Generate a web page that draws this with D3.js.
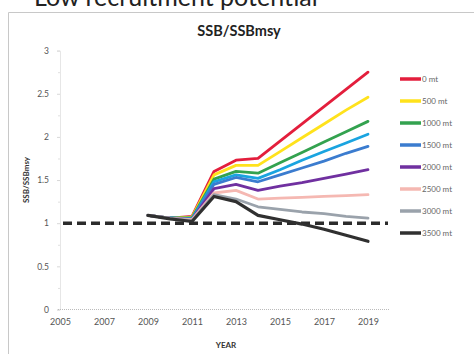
<!DOCTYPE html>
<html><head><meta charset="utf-8">
<script src="https://cdn.jsdelivr.net/npm/d3@7"></script>
<style>body{margin:0;background:#fff;} svg{display:block;}</style>
</head><body>
<svg id="c" width="474" height="354"></svg>
<script>
const years = [2009,2010,2011,2012,2013,2014,2015,2016,2017,2018,2019];
const seriesColors = ["#e31e3c","#ffe21c","#33a24f","#1aa4e0","#3b7ccf","#7030a0","#f5b8b2","#9aa2ab","#303030"];
const s0    = [1.09,1.06,1.08,1.60,1.73,1.75,1.95,2.15,2.35,2.55,2.75];
const s500  = [1.09,1.06,1.07,1.56,1.67,1.67,1.83,1.99,2.15,2.31,2.46];
const s1000 = [1.09,1.06,1.06,1.51,1.60,1.58,1.70,1.82,1.94,2.06,2.18];
const s1500 = [1.09,1.06,1.05,1.48,1.56,1.52,1.62,1.73,1.83,1.93,2.03];
const s2000 = [1.09,1.06,1.05,1.45,1.53,1.48,1.56,1.64,1.72,1.81,1.89];
const s2500a= [1.09,1.06,1.04,1.40,1.45,1.38,1.43,1.47,1.52,1.57,1.62];
const s2500 = [1.09,1.06,1.04,1.35,1.38,1.28,1.29,1.30,1.31,1.32,1.33];
const s3000 = [1.09,1.06,1.03,1.33,1.28,1.19,1.16,1.13,1.11,1.08,1.06];
const s3500 = [1.09,1.05,1.02,1.31,1.25,1.09,1.04,0.99,0.93,0.86,0.79];
const allSeries = [s0,s500,s1000,s1500,s2000,s2500a,s2500,s3000,s3500];
const legendNames = ["0 mt","500 mt","1000 mt","1500 mt","2000 mt","2500 mt","3000 mt","3500 mt"];
const legendIdx = [0,1,2,4,5,6,7,8];
const xTicks = [2005,2007,2009,2011,2013,2015,2017,2019];
const yTicks = [0,0.5,1,1.5,2,2.5,3];
const refValue = 1;

const svg = d3.select("#c");
const x = d3.scaleLinear().domain([2005,2020]).range([60,390]);
const y = d3.scaleLinear().domain([0,3]).range([309.5,50.6]);

// outer frame
svg.append("path").attr("d","M8.5,354 V12.5 H474").attr("fill","none").attr("stroke","#c8c8c8").attr("stroke-width",1);

// cut-off heading (shown partially, as in the reference)
svg.append("text").attr("x",34).attr("y",6).attr("font-family","Lato, 'Open Sans', sans-serif")
  .attr("font-size",25).attr("fill","#222").text("Low recruitment potential");

// title
svg.append("text").attr("x",239).attr("y",36).attr("text-anchor","middle")
  .attr("font-family","Lato, 'Open Sans', sans-serif").attr("font-weight","bold").attr("font-size",14.5)
  .attr("fill","#222").text("SSB/SSBmsy");

// y axis
const yAx = svg.append("g").attr("transform","translate(60,0)")
  .call(d3.axisLeft(y).tickValues(yTicks).tickSize(3).tickFormat(d3.format("")));
yAx.select(".domain").attr("stroke","#e6e6e6");
yAx.selectAll(".tick line").attr("stroke","#d8d8d8");
yAx.selectAll(".tick text").attr("fill","#555").attr("font-size",8.5).attr("font-family","Lato, sans-serif").attr("x",-11);
svg.append("g").attr("transform","translate(60,0)")
  .call(d3.axisLeft(y).tickValues(d3.range(0.25,3,0.5)).tickSize(2).tickFormat(""))
  .call(g=>g.select(".domain").remove()).selectAll("line").attr("stroke","#e0e0e0");

// x axis
const xAx = svg.append("g").attr("transform","translate(0,309.5)")
  .call(d3.axisBottom(x).tickValues(xTicks).tickSize(0).tickFormat(d3.format("d")).tickPadding(9));
xAx.select(".domain").attr("stroke","#bbb").attr("stroke-dasharray","1,1").attr("d","M58,0H390");
xAx.selectAll(".tick text").attr("fill","#555").attr("font-size",9).attr("font-family","Lato, sans-serif");

// axis titles
svg.append("text").attr("x",226).attr("y",348).attr("text-anchor","middle")
  .attr("font-family","Lato, sans-serif").attr("font-weight","bold").attr("font-size",8).attr("fill","#333").text("YEAR");
svg.append("text").attr("transform","translate(29,180) rotate(-90)").attr("text-anchor","middle")
  .attr("font-family","Lato, sans-serif").attr("font-weight","bold").attr("font-size",8).attr("fill","#333").text("SSB/SSBmsy");

// reference dashed line
svg.append("line").attr("x1",x(2005)+3).attr("x2",x(2020)-2).attr("y1",y(refValue)).attr("y2",y(refValue))
  .attr("stroke","#2b2b2b").attr("stroke-width",3.5).attr("stroke-dasharray","9,5");

// lines
const line = d3.line().x((d,i)=>x(years[i])).y(d=>y(d));
allSeries.forEach((s,i)=>{
  svg.append("path").datum(s).attr("d",line).attr("fill","none")
    .attr("stroke",seriesColors[i]).attr("stroke-width",i===8?3.2:2.8)
    .attr("stroke-linejoin","round").attr("stroke-linecap","round");
});

// legend
legendNames.forEach((n,i)=>{
  const ly = 79 + i*22;
  svg.append("line").attr("x1",400).attr("x2",421).attr("y1",ly).attr("y2",ly)
    .attr("stroke",seriesColors[legendIdx[i]]).attr("stroke-width",3.5);
  svg.append("text").attr("x",422).attr("y",ly+3).attr("font-family","Lato, sans-serif")
    .attr("font-size",8).attr("fill","#666").text(n);
});
</script>
</body></html>
